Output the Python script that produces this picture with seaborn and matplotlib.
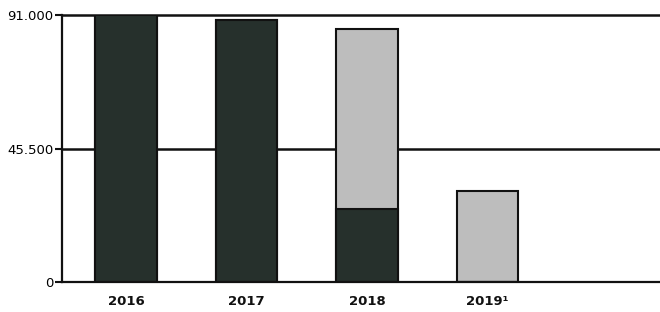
import matplotlib
matplotlib.use("Agg")
import numpy as np
import pandas as pd
import seaborn as sns
from matplotlib import pyplot as plt

years = ["2016", "2017", "2018", "2019¹"]
dark_values = [91000, 89300, 24900, 0]
light_values = [0, 0, 61300, 31000]
y_ticks = [0, 45500, 91000]
y_tick_labels = ["0", "45.500", "91.000"]

sns.set_theme(style="white")
plt.rcParams["font.family"] = ["DejaVu Sans"]

df = pd.DataFrame({"year": years, "dark": dark_values, "light": light_values})
df["total"] = df["dark"] + df["light"]

fig = plt.figure(figsize=(6.6, 3.12), dpi=100)
ax = fig.add_axes([0.094, 0.096, 0.906, 0.856])

# light part drawn as full stack height, dark part on top of it
sns.barplot(data=df, x="year", y="total", color="#bdbdbd", saturation=1,
            width=0.51, edgecolor="#111111", linewidth=1.5, ax=ax)
sns.barplot(data=df, x="year", y="dark", color="#26302c", saturation=1,
            width=0.51, edgecolor="#111111", linewidth=1.5, ax=ax)

for y in y_ticks[1:]:
    ax.axhline(y, color="#111111", lw=1.8, zorder=0.5, clip_on=False)

ax.set_xlim(-0.53, 4.43)
ax.set_ylim(0, 91000)
ax.set_yticks(y_ticks)
ax.set_yticklabels(y_tick_labels, fontsize=9.5, color="#000000")
ax.tick_params(axis="y", length=5, width=1.5, color="#111111", pad=1, left=True)
ax.tick_params(axis="x", length=0, pad=9, labelsize=9.5, colors="#111111")
for lbl in ax.get_xticklabels():
    lbl.set_fontweight("bold")

ax.set_xlabel("")
ax.set_ylabel("")
sns.despine(ax=ax, top=True, right=True)
ax.spines["left"].set_linewidth(1.6)
ax.spines["bottom"].set_linewidth(1.6)
ax.spines["left"].set_color("#111111")
ax.spines["bottom"].set_color("#111111")

fig.savefig("out.png", dpi=100)
